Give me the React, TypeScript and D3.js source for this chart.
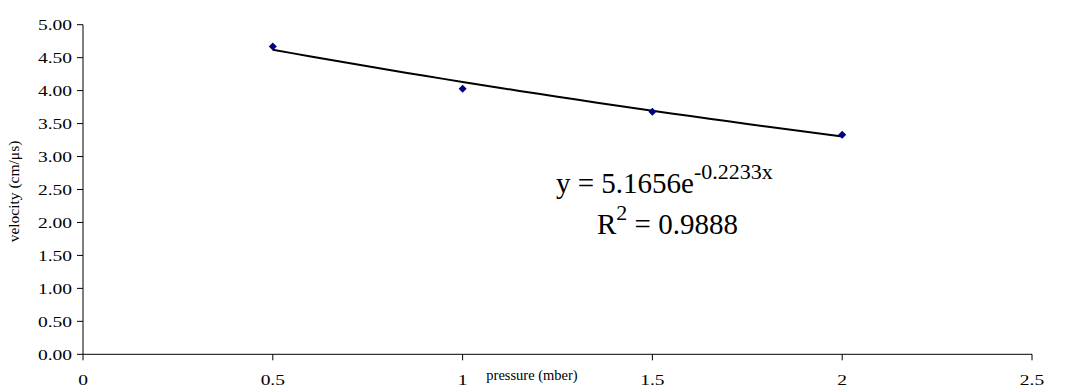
import React from "react";
import * as d3 from "d3";

const pressure = [0.5, 1, 1.5, 2];
const velocity = [4.67, 4.03, 3.68, 3.33];
const yTicks = [0, 0.5, 1, 1.5, 2, 2.5, 3, 3.5, 4, 4.5, 5];
const xTicks = [0, 0.5, 1, 1.5, 2, 2.5];
const fitA = 5.1656;
const fitB = -0.2233;
const eqText = "y = 5.1656e";
const eqSup = "-0.2233x";
const r2Text = "= 0.9888";

const W = 1071;
const H = 390;
const left = 83;
const right = 1032;
const top = 24.7;
const bottom = 354.3;
const FONT = "'Times New Roman', 'Liberation Serif', 'DejaVu Serif', serif";
const tStyle = { fontFamily: FONT };
const STRETCH = 1.3;

export default function App() {
  const x = d3.scaleLinear().domain([0, 2.5]).range([left, right]);
  const y = d3.scaleLinear().domain([0, 5]).range([bottom, top]);
  const trendX = d3.range(0.5, 2.0001, 0.05);
  const line = d3
    .line<number>()
    .x((d) => x(d))
    .y((d) => y(fitA * Math.exp(fitB * d)));
  const diamond = d3.symbol().type(d3.symbolSquare).size(32)();

  return (
    <svg
      width={W}
      height={H}
      style={{ position: "absolute", left: 0, top: 0, background: "#fff" }}
    >
      <line x1={left} x2={left} y1={top} y2={bottom} stroke="#000" strokeWidth={1} />
      <line x1={left} x2={right} y1={bottom} y2={bottom} stroke="#000" strokeWidth={1} />
      {yTicks.map((t) => (
        <g key={"y" + t}>
          <line x1={left - 6} x2={left} y1={y(t)} y2={y(t)} stroke="#000" />
          <text
            transform={`translate(${left - 11}, ${y(t)}) scale(${STRETCH}, 1)`}
            dy="0.35em"
            textAnchor="end"
            fontSize={15}
            style={tStyle}
          >
            {t.toFixed(2)}
          </text>
        </g>
      ))}
      {xTicks.map((t) => (
        <g key={"x" + t}>
          <line x1={x(t)} x2={x(t)} y1={bottom} y2={bottom + 6} stroke="#000" />
          <text
            transform={`translate(${x(t)}, ${bottom + 31}) scale(${STRETCH}, 1)`}
            textAnchor="middle"
            fontSize={15}
            style={tStyle}
          >
            {String(t)}
          </text>
        </g>
      ))}
      <text
        transform={`translate(19, ${(top + bottom) / 2 + 2}) rotate(-90)`}
        textAnchor="middle"
        fontSize={15.5}
        style={tStyle}
      >
        velocity (cm/μs)
      </text>
      <text x={532} y={bottom + 26} textAnchor="middle" fontSize={14.5} style={tStyle}>
        pressure (mber)
      </text>

      <path d={line(trendX) || ""} fill="none" stroke="#000" strokeWidth={2} />
      {pressure.map((p, i) => (
        <path
          key={"pt" + i}
          d={diamond || ""}
          transform={`translate(${x(p)}, ${y(velocity[i])}) rotate(45)`}
          fill="#000080"
        />
      ))}

      <text x={556} y={193} fontSize={29} style={tStyle}>
        {eqText}
        <tspan fontSize={22} dy={-14}>
          {eqSup}
        </tspan>
      </text>
      <text x={597} y={234} fontSize={29} style={tStyle}>
        R
        <tspan fontSize={22} dy={-14}>
          2
        </tspan>
        <tspan dy={14}> {r2Text}</tspan>
      </text>
    </svg>
  );
}
